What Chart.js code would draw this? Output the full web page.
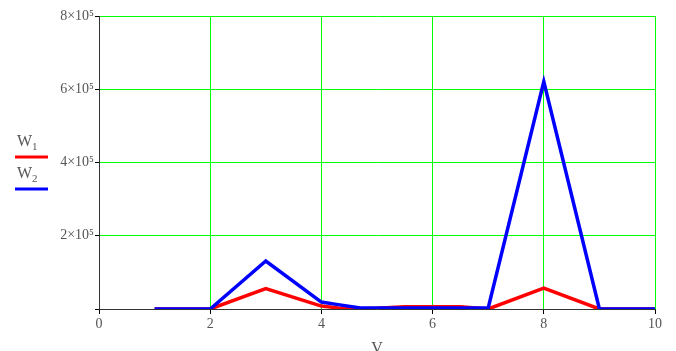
<!DOCTYPE html>
<html>
<head>
<meta charset="utf-8">
<script src="https://cdn.jsdelivr.net/npm/chart.js@4.4.0/dist/chart.umd.min.js"></script>
<style>
  html, body { margin: 0; padding: 0; background: #fff; }
  #wrap { width: 676px; height: 351px; }
</style>
</head>
<body>
<div id="wrap"><canvas id="chart"></canvas></div>
<script>
// values
const V = [1, 2, 3, 4, 4.3, 4.7, 5, 5.5, 6.5, 7, 8, 9, 10];
const W1 = [0, 0, 56000, 8000, 3000, 1000, 2000, 6000, 6000, 0, 57000, 0, 0];
const W2 = [0, 0, 131000, 19000, 12000, 3000, 3000, 3000, 3000, 3000, 621000, 0, 0];
const yTicks = [0, 200000, 400000, 600000, 800000];
const xTicks = [0, 2, 4, 6, 8, 10];

const serif = '"Liberation Serif", "Times New Roman", serif';

function pts(ys) {
    return V.map((v, i) => ({ x: v, y: ys[i] }));
}

// legend at the left like in mathcad
const sideLegend = {
    id: 'sideLegend',
    afterDraw(chart) {
        const c = chart.ctx;
        const items = [
            { name: 'W', sub: '1', color: '#ff0000', base: 146, line: 157 },
            { name: 'W', sub: '2', color: '#0000ff', base: 178, line: 189 }
        ];
        c.save();
        items.forEach(it => {
            c.fillStyle = '#555';
            c.font = '16px ' + serif;
            c.textBaseline = 'alphabetic';
            c.fillText(it.name, 17, it.base);
            const w = c.measureText(it.name).width;
            c.font = '11px ' + serif;
            c.fillText(it.sub, 17 + w, it.base + 4);
            c.strokeStyle = it.color;
            c.lineWidth = 3;
            c.beginPath();
            c.moveTo(15, it.line);
            c.lineTo(48, it.line);
            c.stroke();
        });
        c.restore();
    }
};

const ctx = document.getElementById('chart').getContext('2d');
const myChart = new Chart(ctx, {
    type: 'line',
    data: {
        datasets: [
            {
                label: 'W1',
                data: pts(W1),
                borderColor: '#ff0000',
                borderWidth: 3.5,
                pointRadius: 0,
                order: 1
            },
            {
                label: 'W2',
                data: pts(W2),
                borderColor: '#0000ff',
                borderWidth: 3.5,
                pointRadius: 0,
                order: 0
            }
        ]
    },
    options: {
        responsive: true,
        maintainAspectRatio: false,
        animation: false,
        layout: { padding: { left: 39, right: 21, top: 16, bottom: 0 } },
        plugins: {
            legend: { display: false },
            tooltip: { enabled: false }
        },
        scales: {
            x: {
                type: 'linear',
                min: 0,
                max: 10,
                afterFit: s => { s.height = 42; },
                afterBuildTicks: s => { s.ticks = xTicks.map(v => ({ value: v })); },
                grid: {
                    color: c => c.tick && c.tick.value === 0 ? 'rgba(0,0,0,0)' : '#00ff00',
                    lineWidth: 1,
                    tickColor: '#000',
                    tickLength: 5
                },
                border: { color: '#333', width: 1 },
                ticks: {
                    color: '#555',
                    font: { family: serif, size: 14 },
                    padding: 2
                },
                title: {
                    display: true,
                    text: 'V',
                    color: '#555',
                    font: { family: serif, size: 16 },
                    padding: { top: 2, bottom: -7 }
                }
            },
            y: {
                min: 0,
                max: 800000,
                afterFit: s => { s.width = 60; },
                afterBuildTicks: s => { s.ticks = yTicks.map(v => ({ value: v })); },
                grid: {
                    color: c => c.tick && c.tick.value === 0 ? 'rgba(0,0,0,0)' : '#00ff00',
                    lineWidth: 1,
                    tickColor: '#000',
                    tickLength: 4
                },
                border: { color: '#333', width: 1 },
                ticks: {
                    color: '#555',
                    font: { family: serif, size: 14 },
                    padding: 1,
                    callback: v => v === 0 ? '' : (v / 100000) + '×10⁵'
                }
            }
        }
    },
    plugins: [sideLegend]
});
</script>
</body>
</html>
